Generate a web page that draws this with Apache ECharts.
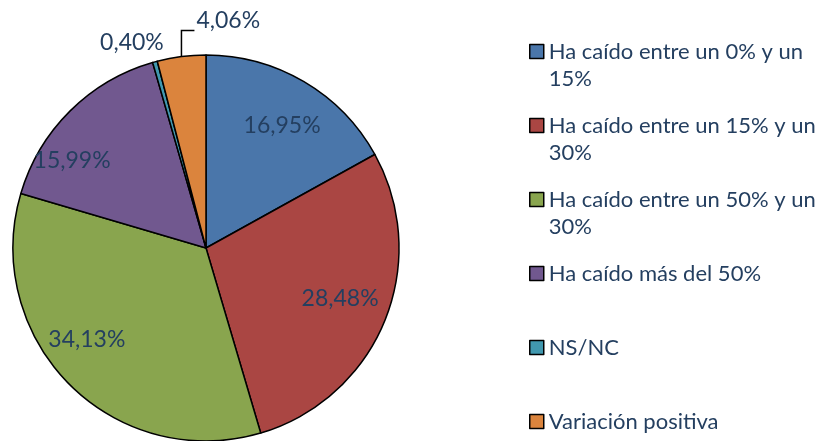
<!DOCTYPE html>
<html>
<head>
<meta charset="utf-8">
<script src="https://cdn.jsdelivr.net/npm/echarts@6/dist/echarts.min.js"></script>
<style>
  html, body { margin: 0; padding: 0; background: #ffffff; }
  #chart { width: 818px; height: 441px; }
</style>
</head>
<body>
<div id="chart"></div>
<script>
const categories = [
  'Ha caído entre un 0% y un 15%',
  'Ha caído entre un 15% y un 30%',
  'Ha caído entre un 50% y un 30%',
  'Ha caído más del 50%',
  'NS/NC',
  'Variación positiva'
];
const shares = [16.95, 28.48, 34.13, 15.99, 0.40, 4.06];
const colors = ['#4a76aa', '#aa4643', '#89a54e', '#71588f', '#4198af', '#db843d'];

const textColor = '#243f60';
const fontFamily = 'Lato, "Open Sans", sans-serif';
const center = [206, 248];
const radius = 193;
const lineHeight = 27;

// offsets so the inside labels sit where the original put them
const insideOffsets = [[2, 3], [-1, -5], [-16, -12], [-31, 16]];

const total = shares.reduce((a, b) => a + b, 0);

function edgePoint(index) {
  const before = shares.slice(0, index).reduce((a, b) => a + b, 0);
  const angle = 2 * Math.PI * (before + shares[index] / 2) / total;
  return [center[0] + radius * Math.sin(angle), center[1] - radius * Math.cos(angle)];
}

function formatShare(value) {
  return value.toFixed(2).replace('.', ',') + '%';
}

// every legend entry is three lines tall with the first real line in the
// middle, so the square lines up with it like in the original
function legendText(name) {
  if (name.length > 25) return '\n' + name.replace(/ (\S+)$/, '\n$1');
  return '\n' + name + '\n ';
}

const chart = echarts.init(document.getElementById('chart'), null, { renderer: 'canvas' });

chart.setOption({
  animation: false,
  color: colors,
  legend: {
    orient: 'vertical',
    left: 524,
    top: 6,
    height: 520,
    padding: 5,
    itemWidth: 14,
    itemHeight: 14,
    itemGap: -7,
    icon: 'rect',
    selectedMode: false,
    itemStyle: { borderColor: '#000000', borderWidth: 1.5 },
    textStyle: {
      color: textColor,
      fontFamily: fontFamily,
      fontSize: 22,
      lineHeight: lineHeight
    },
    formatter: legendText,
    data: categories
  },
  series: [
    {
      name: 'main',
      type: 'pie',
      center: center,
      radius: [0, radius],
      startAngle: 90,
      clockwise: true,
      avoidLabelOverlap: false,
      silent: true,
      emphasis: { disabled: true },
      itemStyle: { borderColor: '#000000', borderWidth: 1.5 },
      label: {
        show: false,
        color: textColor,
        fontFamily: fontFamily,
        fontSize: 23,
        formatter: p => formatShare(p.value)
      },
      labelLine: {
        show: false,
        lineStyle: { color: '#000000', width: 1.5 }
      },
      labelLayout: params => {
        if (params.dataIndex === 5) {
          const p0 = edgePoint(5);
          const top = p0[1] - 26;
          return {
            x: p0[0] + 15,
            y: p0[1] - 36,
            align: 'left',
            verticalAlign: 'middle',
            labelLinePoints: [p0, [p0[0], top], [p0[0] + 13, top]]
          };
        }
        if (params.dataIndex === 4) {
          const p0 = edgePoint(4);
          return { x: p0[0] - 23, y: p0[1] - 19, align: 'center', verticalAlign: 'middle' };
        }
      },
      data: categories.map((name, i) => ({
        name: name,
        value: shares[i],
        label: i >= 4 ? { show: true, position: 'outside' } : undefined,
        labelLine: i === 5 ? { show: true } : undefined
      }))
    },
    {
      name: 'labels',
      type: 'pie',
      center: center,
      radius: [93, radius],
      startAngle: 90,
      clockwise: true,
      silent: true,
      emphasis: { disabled: true },
      itemStyle: { color: 'rgba(0,0,0,0)', borderWidth: 0 },
      label: {
        show: true,
        position: 'inside',
        color: textColor,
        fontFamily: fontFamily,
        fontSize: 23,
        formatter: p => formatShare(p.value)
      },
      labelLine: { show: false },
      data: categories.map((name, i) => ({
        name: name,
        value: shares[i],
        label: i < 4 ? { offset: insideOffsets[i] } : { show: false }
      }))
    }
  ]
});

window.addEventListener('resize', () => chart.resize());
</script>
</body>
</html>
